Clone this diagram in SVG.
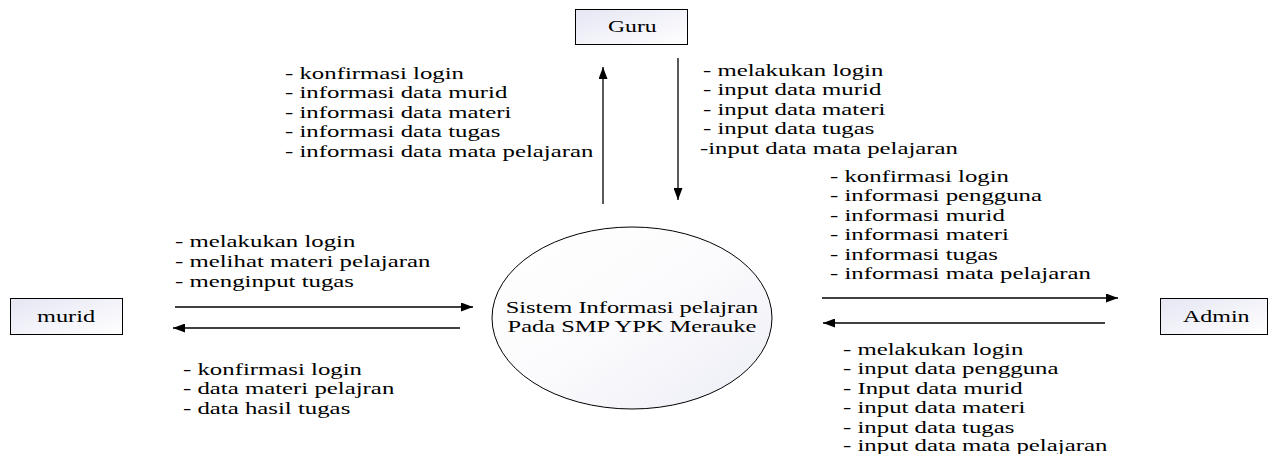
<svg xmlns="http://www.w3.org/2000/svg" width="1271" height="454" viewBox="0 0 1271 454">
<style>
.lbl{font-family:"Liberation Serif","Times New Roman",serif;font-size:16px;fill:#000}
.box{stroke:#000;stroke-width:1;fill:url(#boxg)}
.flow{stroke:#000;stroke-width:1.3;fill:none;marker-end:url(#ah)}
</style>
<defs>
<linearGradient id="boxg" x1="0" y1="0" x2="1" y2="1">
<stop offset="0" stop-color="#e6e6f4"/>
<stop offset="1" stop-color="#ffffff"/>
</linearGradient>
<linearGradient id="ellg" x1="0" y1="0" x2="1" y2="1">
<stop offset="0" stop-color="#ffffff"/>
<stop offset="0.5" stop-color="#fbfbfd"/>
<stop offset="1" stop-color="#ececf6"/>
</linearGradient>
<marker id="ah" viewBox="0 0 12 9" refX="12" refY="4.5" markerWidth="12" markerHeight="9" markerUnits="userSpaceOnUse" orient="auto">
<path d="M0,0 L12,4.5 L0,9 z" fill="#000"/>
</marker>
</defs>

<g id="guru">
<rect class="box" x="575.5" y="9.5" width="112" height="35"/>
<g transform="translate(608 0) scale(1.48 1)"><text class="lbl" x="0" y="32">Guru</text></g>
</g>

<g id="murid">
<rect class="box" x="10.5" y="298.5" width="112" height="36"/>
<g transform="translate(37 0) scale(1.52 1)"><text class="lbl" x="0" y="322">murid</text></g>
</g>

<g id="admin">
<rect class="box" x="1160.5" y="298.5" width="107" height="36"/>
<g transform="translate(1183 0) scale(1.5 1)"><text class="lbl" x="0" y="322">Admin</text></g>
</g>

<g id="sistem">
<ellipse cx="632" cy="318" rx="140" ry="91" fill="url(#ellg)" stroke="#000" stroke-width="1"/>
<g transform="translate(632 0) scale(1.53 1)">
<text class="lbl" x="0" y="313" text-anchor="middle">Sistem Informasi pelajran</text>
<text class="lbl" x="0" y="332" text-anchor="middle">Pada SMP YPK Merauke</text>
</g>
</g>

<g id="connectors">
<line class="flow" x1="603" y1="204" x2="603" y2="67"/>
<line class="flow" x1="678" y1="58" x2="678" y2="200"/>
<line class="flow" x1="175" y1="307" x2="473" y2="307"/>
<line class="flow" x1="460" y1="328" x2="173" y2="328"/>
<line class="flow" x1="822" y1="298" x2="1118" y2="298"/>
<line class="flow" x1="1105" y1="323" x2="823" y2="323"/>
</g>

<g id="labels">
<g transform="translate(285 0) scale(1.55 1)">
<text class="lbl" x="0" y="79">- konfirmasi login</text>
<text class="lbl" x="0" y="98.5">- informasi data murid</text>
<text class="lbl" x="0" y="118">- informasi data materi</text>
<text class="lbl" x="0" y="137.5">- informasi data tugas</text>
<text class="lbl" x="0" y="157">- informasi data mata pelajaran</text>
</g>
<g transform="translate(703 0) scale(1.55 1)">
<text class="lbl" x="0" y="76">- melakukan login</text>
<text class="lbl" x="0" y="95.5">- input data murid</text>
<text class="lbl" x="0" y="115">- input data materi</text>
<text class="lbl" x="0" y="134.5">- input data tugas</text>
<text class="lbl" x="-2" y="154">-input data mata pelajaran</text>
</g>
<g transform="translate(175 0) scale(1.55 1)">
<text class="lbl" x="0" y="247">- melakukan login</text>
<text class="lbl" x="0" y="267">- melihat materi pelajaran</text>
<text class="lbl" x="0" y="287">- menginput tugas</text>
</g>
<g transform="translate(183 0) scale(1.55 1)">
<text class="lbl" x="0" y="375">- konfirmasi login</text>
<text class="lbl" x="0" y="394.5">- data materi pelajran</text>
<text class="lbl" x="0" y="414">- data hasil tugas</text>
</g>
<g transform="translate(830 0) scale(1.55 1)">
<text class="lbl" x="0" y="182">- konfirmasi login</text>
<text class="lbl" x="0" y="201.5">- informasi pengguna</text>
<text class="lbl" x="0" y="221">- informasi murid</text>
<text class="lbl" x="0" y="240.5">- informasi materi</text>
<text class="lbl" x="0" y="260">- informasi tugas</text>
<text class="lbl" x="0" y="279.5">- informasi mata pelajaran</text>
</g>
<g transform="translate(843 0) scale(1.55 1)">
<text class="lbl" x="0" y="355">- melakukan login</text>
<text class="lbl" x="0" y="374.5">- input data pengguna</text>
<text class="lbl" x="0" y="394">- Input data murid</text>
<text class="lbl" x="0" y="413.5">- input data materi</text>
<text class="lbl" x="0" y="433">- input data tugas</text>
<text class="lbl" x="0" y="451">- input data mata pelajaran</text>
</g>
</g>
</svg>
